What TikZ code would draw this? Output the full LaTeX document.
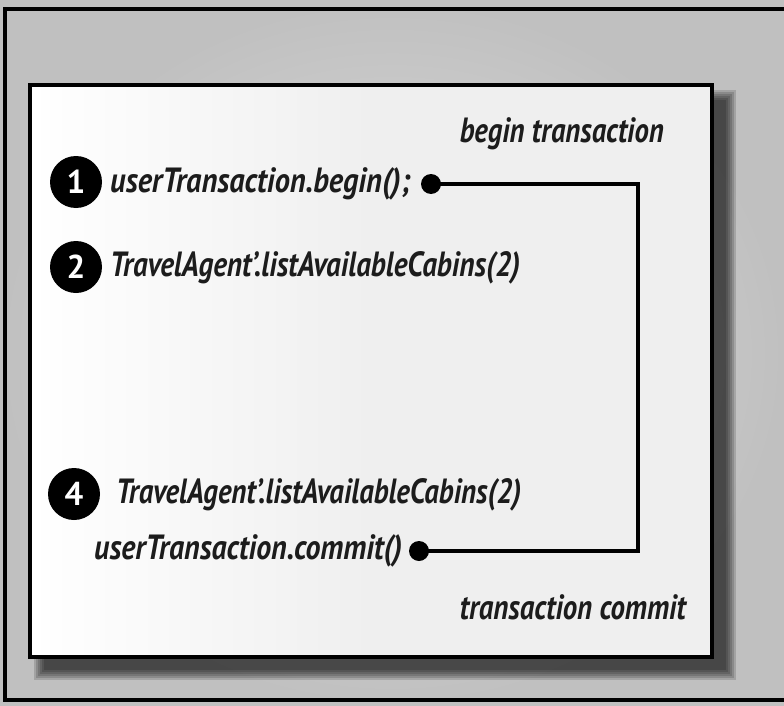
\documentclass[tikz,border=0pt]{standalone}
\usepackage{fontspec}
\setmainfont{PT Sans}
\usepackage{graphicx}
\definecolor{bgout}{HTML}{C0C0C0}
\definecolor{bgin}{HTML}{DEDEDE}
\definecolor{boxfill}{HTML}{EFEFEF}
\definecolor{txt}{HTML}{1C1C1C}
\newcommand{\fw}[2]{\resizebox{#1}{\height}{#2}}
\begin{document}
\begin{tikzpicture}[x=1pt,y=-1pt,
  code/.style={inner sep=0pt, text=txt, font=\fontsize{35}{35}\selectfont\bfseries\itshape},
  num/.style={circle, fill=black, minimum size=52pt, inner sep=0pt, text=white, font=\fontsize{33}{33}\selectfont\bfseries},
  dotnode/.style={circle, fill=black, minimum size=20pt, inner sep=0pt},
  link/.style={line width=4.5pt, line join=miter}]
\useasboundingbox (0,0) rectangle (784,706);
% background
\shade[inner color=bgin, outer color=bgout] (0,0) rectangle (784,706);
\draw[line width=4.5pt] (790,9) -- (5,9) -- (5,700) -- (790,700);
% shadow
\foreach \r in {10,8,...,0}{
  \fill[black, opacity=0.15] (44-\r,100-\r) rectangle (726+\r,670+\r);
}
% inner box
\shade[left color=white, right color=boxfill, middle color=boxfill] (30,85) rectangle (712,657);
\draw[line width=4pt] (30,85) rectangle (712,657);
% labels
\node[code, anchor=east] (begl) at (664,134) {\fw{204pt}{begin transaction}};
\node[num] (n1) at (76,182) {1};
\node[code, anchor=west] (t1) at (110,184) {\fw{300pt}{userTransaction.begin();}};
\node[dotnode] (d1) at (431,184) {};
\node[num] (n2) at (76,267) {2};
\node[code, anchor=west] (t2) at (110,268) {\fw{410pt}{TravelAgent'.listAvailableCabins(2)}};
\node[num] (n4) at (74,494) {4};
\node[code, anchor=west] (t4) at (116,495) {\fw{405pt}{TravelAgent'.listAvailableCabins(2)}};
\node[code, anchor=west] (t5) at (94,551) {\fw{308pt}{userTransaction.commit()}};
\node[dotnode] (d2) at (419,551) {};
\node[code, anchor=east] (coml) at (686,607) {\fw{226pt}{transaction commit}};
\coordinate (corner) at (638,184);
\draw[link] (d1.center) -- (corner) |- (d2.center);
\end{tikzpicture}
\end{document}
